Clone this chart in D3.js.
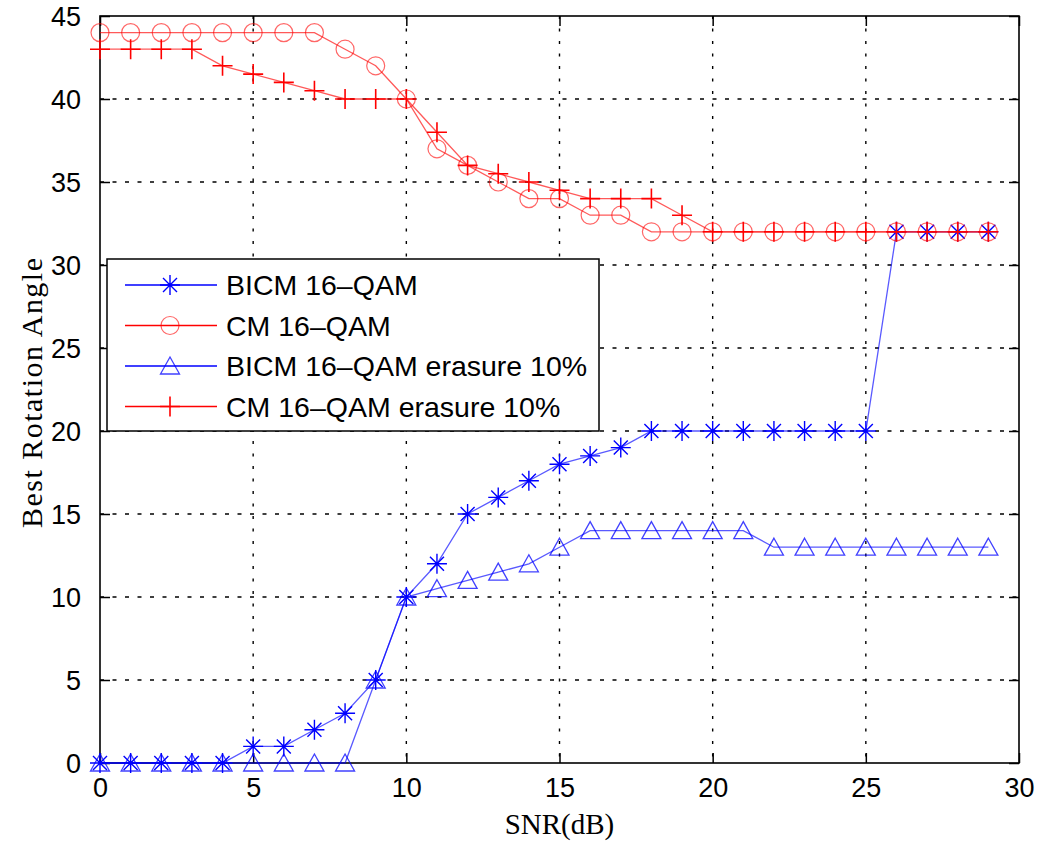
<!DOCTYPE html>
<html><head><meta charset="utf-8">
<script src="https://cdn.jsdelivr.net/npm/d3@7"></script>
<style>body{margin:0;background:#fff}</style>
</head><body>
<script>
const snr = d3.range(0, 30);
const bicm = [0,0,0,0,0,1,1,2,3,5,10,12,15,16,17,18,18.5,19,20,20,20,20,20,20,20,20,32,32,32,32];
const cm = [44,44,44,44,44,44,44,44,43,42,40,37,36,35,34,34,33,33,32,32,32,32,32,32,32,32,32,32,32,32];
const bicmErasure = [0,0,0,0,0,0,0,0,0,5,10,10.5,11,11.5,12,13,14,14,14,14,14,14,13,13,13,13,13,13,13,13];
const cmErasure = [43,43,43,43,42,41.5,41,40.5,40,40,40,38,36,35.5,35,34.5,34,34,34,33,32,32,32,32,32,32,32,32,32,32];
const xTicks = [0,5,10,15,20,25,30];
const yTicks = [0,5,10,15,20,25,30,35,40,45];
const seriesNames = ["BICM 16\u2013QAM","CM 16\u2013QAM","BICM 16\u2013QAM erasure 10%","CM 16\u2013QAM erasure 10%"];
const seriesColors = ["#0000ff","#ff0000","#0000ff","#ff0000"];
const seriesMarkers = ["star","circle","triangle","plus"];
const seriesValues = [bicm, cm, bicmErasure, cmErasure];

const W = 1037, H = 841;
const L = 100, R = 1019, T = 16, B = 763;
const svg = d3.select("body").append("svg").attr("width", W).attr("height", H);
const x = d3.scaleLinear().domain([0,30]).range([L,R]);
const y = d3.scaleLinear().domain([0,45]).range([B,T]);

// grid
const grid = svg.append("g");
xTicks.slice(1,-1).forEach(t => grid.append("line")
  .attr("x1", x(t)).attr("x2", x(t)).attr("y1", T).attr("y2", B)
  .attr("stroke","#000").attr("stroke-width",1.4).attr("stroke-dasharray","3,9.5"));
yTicks.slice(1,-1).forEach(t => grid.append("line")
  .attr("x1", L).attr("x2", R).attr("y1", y(t)).attr("y2", y(t))
  .attr("stroke","#000").attr("stroke-width",1.4).attr("stroke-dasharray","4,8.5"));

// axes
const fs = "27px";
const ax = svg.append("g").attr("transform",`translate(0,${B})`)
  .call(d3.axisBottom(x).tickValues(xTicks).tickSizeInner(-10).tickSizeOuter(0).tickPadding(15));
const axT = svg.append("g").attr("transform",`translate(0,${T})`)
  .call(d3.axisTop(x).tickValues(xTicks).tickSizeInner(-10).tickSizeOuter(0).tickFormat(""));
const ay = svg.append("g").attr("transform",`translate(${L},0)`)
  .call(d3.axisLeft(y).tickValues(yTicks).tickSizeInner(-10).tickSizeOuter(0).tickPadding(19));
const ayR = svg.append("g").attr("transform",`translate(${R},0)`)
  .call(d3.axisRight(y).tickValues(yTicks).tickSizeInner(-10).tickSizeOuter(0).tickFormat(""));
[ax,axT,ay,ayR].forEach(g => {
  g.select(".domain").remove();
  g.selectAll("line").attr("stroke","#000").attr("stroke-width",1.5);
  g.selectAll("text").attr("font-family","Liberation Sans, Arial, sans-serif").attr("font-size",fs).attr("fill","#000");
});
ax.selectAll("text").attr("dy","0.72em");
ay.selectAll("text").attr("dy","0.36em");
svg.append("rect").attr("x",L).attr("y",T).attr("width",R-L).attr("height",B-T)
  .attr("fill","none").attr("stroke","#000").attr("stroke-width",1.6);

// axis titles
svg.append("text").attr("x",(L+R)/2).attr("y",834).attr("text-anchor","middle")
  .attr("font-family","Liberation Serif, Times New Roman, serif").attr("font-size","29px").text("SNR(dB)");
svg.append("text").attr("transform","translate(42,393) rotate(-90)").attr("text-anchor","middle")
  .attr("font-family","Liberation Serif, Times New Roman, serif").attr("font-size","30px")
  .attr("textLength",270).attr("lengthAdjust","spacing").text("Best Rotation Angle");

function drawMarker(g, type, cx, cy, color) {
  if (type === "circle") {
    g.append("circle").attr("cx",cx).attr("cy",cy).attr("r",9)
      .attr("fill","none").attr("stroke",color).attr("stroke-width",1.2).attr("stroke-opacity",0.6);
  } else if (type === "plus") {
    g.append("path").attr("d",`M${cx-10},${cy}H${cx+10}M${cx},${cy-10}V${cy+10}`)
      .attr("stroke",color).attr("stroke-width",1.6).attr("fill","none");
  } else if (type === "star") {
    const d = 7;
    g.append("path").attr("d",`M${cx-10},${cy}H${cx+10}M${cx},${cy-10}V${cy+10}M${cx-d},${cy-d}L${cx+d},${cy+d}M${cx-d},${cy+d}L${cx+d},${cy-d}`)
      .attr("stroke",color).attr("stroke-width",1.4).attr("fill","none");
  } else if (type === "triangle") {
    g.append("path").attr("d",`M${cx},${cy-9}L${cx+9.5},${cy+8}L${cx-9.5},${cy+8}Z`)
      .attr("stroke",color).attr("stroke-width",1.3).attr("stroke-opacity",0.75).attr("fill","none");
  }
}

const line = d3.line().x((d,i)=>x(snr[i])).y(d=>y(d));
seriesValues.forEach((vals, k) => {
  const g = svg.append("g");
  g.append("path").datum(vals).attr("d", line).attr("fill","none")
    .attr("stroke", seriesColors[k]).attr("stroke-width",1.3).attr("stroke-opacity",0.65);
  vals.forEach((v,i) => drawMarker(g, seriesMarkers[k], x(snr[i]), y(v), seriesColors[k]));
});

// legend
const lg = svg.append("g");
lg.append("rect").attr("x",107).attr("y",259).attr("width",492).attr("height",172)
  .attr("fill","#fff").attr("stroke","#000").attr("stroke-width",1.5);
seriesNames.forEach((name,k) => {
  const cy = 285 + k*40.5;
  lg.append("line").attr("x1",125).attr("x2",217).attr("y1",cy).attr("y2",cy)
    .attr("stroke",seriesColors[k]).attr("stroke-width",1.4);
  drawMarker(lg, seriesMarkers[k], 170, cy, seriesColors[k]);
  lg.append("text").attr("x",226).attr("y",cy+10)
    .attr("font-family","Liberation Sans, Arial, sans-serif").attr("font-size","28.5px").text(name);
});
</script>
</body></html>
